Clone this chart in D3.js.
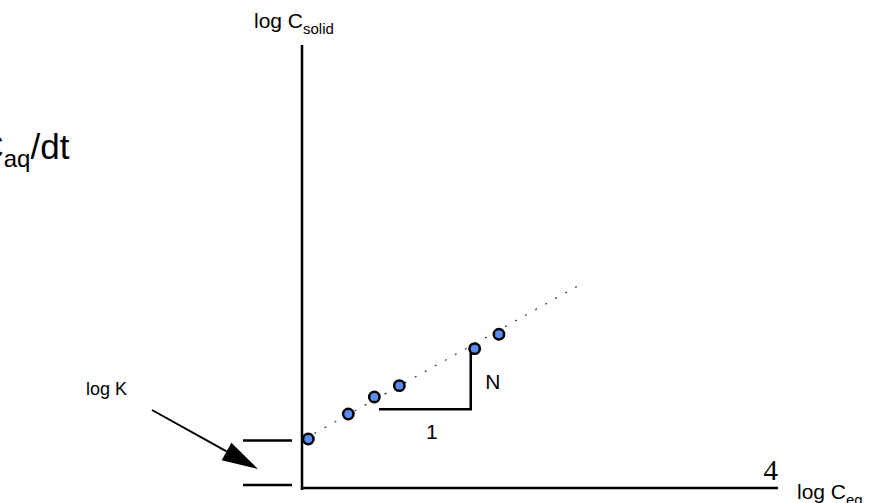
<!DOCTYPE html>
<html>
<head>
<meta charset="utf-8">
<script src="https://cdn.jsdelivr.net/npm/d3@7"></script>
<style>
	body { margin: 0; background: #fff; }
	svg text { font-family: "Liberation Sans", Arial, sans-serif; fill: #000; }
</style>
</head>
<body>
<div id="chart"></div>
<script>

////////////////////////////////////////////////////////////
///////////////////////// Data /////////////////////////////
////////////////////////////////////////////////////////////

//Measured points (log C_eq, log C_solid)
var logCeq   = [0.053, 0.389, 0.608, 0.818, 1.451, 1.655];
var logCsolid = [0.412, 0.622, 0.765, 0.860, 1.171, 1.292];

//Freundlich fit: log C_solid = log K + N * log C_eq
var logK = 0.40,
	slopeN = 0.56,
	fitRange = [0.02, 2.31];

//Slope triangle (run of 1, rise of N)
var triRun = [0.647, 1.418],
	triBase = 0.661,
	triTop = 1.145;

//Reference marks on the y axis
var yMarks = [0.40, 0.025];

var xMax = 4;

////////////////////////////////////////////////////////////
///////////////////////// Setup ////////////////////////////
////////////////////////////////////////////////////////////

var width = 885,
	height = 503;

var svg = d3.select("#chart").append("svg")
	.attr("width", width)
	.attr("height", height);

var x = d3.scaleLinear().domain([0, xMax]).range([302, 778]);
var y = d3.scaleLinear().domain([0, 443/119]).range([488, 45]);

var points = logCeq.map(function(d,i) { return {x: d, y: logCsolid[i]}; });

////////////////////////////////////////////////////////////
///////////////////////// Axes /////////////////////////////
////////////////////////////////////////////////////////////

svg.append("line")
	.attr("x1", x(0)).attr("x2", x(0))
	.attr("y1", y.range()[1]).attr("y2", y(0) + 2)
	.style("stroke", "#000").style("stroke-width", 2.5);

svg.append("line")
	.attr("x1", x(0)).attr("x2", x(xMax))
	.attr("y1", y(0)).attr("y2", y(0))
	.style("stroke", "#000").style("stroke-width", 2.5);

//short marks left of the y axis
svg.selectAll(".y-mark")
	.data(yMarks)
	.enter().append("line")
	.attr("class", "y-mark")
	.attr("x1", x(0) - 59).attr("x2", x(0) - 10)
	.attr("y1", function(d) { return y(d); })
	.attr("y2", function(d) { return y(d); })
	.style("stroke", "#000").style("stroke-width", 2.5);

//axis titles
var yTitle = svg.append("text")
	.attr("x", 254).attr("y", 28)
	.style("font-size", "21px");
yTitle.append("tspan").text("log C");
yTitle.append("tspan").attr("dy", 6).style("font-size", "15px").text("solid");

var xTitle = svg.append("text")
	.attr("x", 797).attr("y", 499)
	.style("font-size", "21px");
xTitle.append("tspan").text("log C");
xTitle.append("tspan").attr("dy", 6).style("font-size", "15px").text("eq");

svg.append("text")
	.attr("x", x(xMax)).attr("y", 480)
	.attr("text-anchor", "end")
	.style("font-family", "'Liberation Serif', 'Times New Roman', serif")
	.style("font-size", "29px")
	.text(xMax);

////////////////////////////////////////////////////////////
/////////////////// Fit line and points ////////////////////
////////////////////////////////////////////////////////////

svg.append("line")
	.attr("x1", x(fitRange[0])).attr("y1", y(logK + slopeN * fitRange[0]))
	.attr("x2", x(fitRange[1])).attr("y2", y(logK + slopeN * fitRange[1]))
	.style("stroke", "#333")
	.style("stroke-width", 1.2)
	.style("stroke-dasharray", "2 9.5");

//slope triangle
svg.append("path")
	.attr("d", "M" + x(triRun[0]) + "," + y(triBase) +
		"H" + x(triRun[1]) + "V" + y(triTop))
	.style("fill", "none")
	.style("stroke", "#000")
	.style("stroke-width", 2.5);

svg.append("text")
	.attr("x", x(triRun[1]) + 22).attr("y", y((triBase + triTop)/2) + 8)
	.attr("text-anchor", "middle")
	.style("font-size", "21px")
	.text("N");

svg.append("text")
	.attr("x", x((triRun[0] + triRun[1])/2) + 7).attr("y", y(triBase) + 30)
	.attr("text-anchor", "middle")
	.style("font-size", "21px")
	.text("1");

svg.selectAll(".point")
	.data(points)
	.enter().append("circle")
	.attr("class", "point")
	.attr("cx", function(d) { return x(d.x); })
	.attr("cy", function(d) { return y(d.y); })
	.attr("r", 5.2)
	.style("fill", "#5a8cf0")
	.style("stroke", "#000")
	.style("stroke-width", 2.5);

////////////////////////////////////////////////////////////
/////////////////// Annotations ////////////////////////////
////////////////////////////////////////////////////////////

var rate = svg.append("text")
	.attr("x", -41).attr("y", 159)
	.style("font-size", "35px");
rate.append("tspan").text("dC");
rate.append("tspan").attr("dy", 8).style("font-size", "24px").text("aq");
rate.append("tspan").attr("dy", -8).text("/dt");

svg.append("text")
	.attr("x", 86).attr("y", 395)
	.style("font-size", "18px")
	.text("log K");

//arrow pointing at the intercept
var tip = [258, 469], tail = [152, 410];
var ang = Math.atan2(tip[1] - tail[1], tip[0] - tail[0]),
	headLen = 36, headHalf = 10;
var bx = tip[0] - headLen * Math.cos(ang),
	by = tip[1] - headLen * Math.sin(ang);

svg.append("line")
	.attr("x1", tail[0]).attr("y1", tail[1])
	.attr("x2", bx).attr("y2", by)
	.style("stroke", "#000").style("stroke-width", 2);

svg.append("path")
	.attr("d", "M" + tip[0] + "," + tip[1] +
		"L" + (bx - headHalf * Math.sin(ang)) + "," + (by + headHalf * Math.cos(ang)) +
		"L" + (bx + headHalf * Math.sin(ang)) + "," + (by - headHalf * Math.cos(ang)) + "Z")
	.style("fill", "#000");

</script>
</body>
</html>
